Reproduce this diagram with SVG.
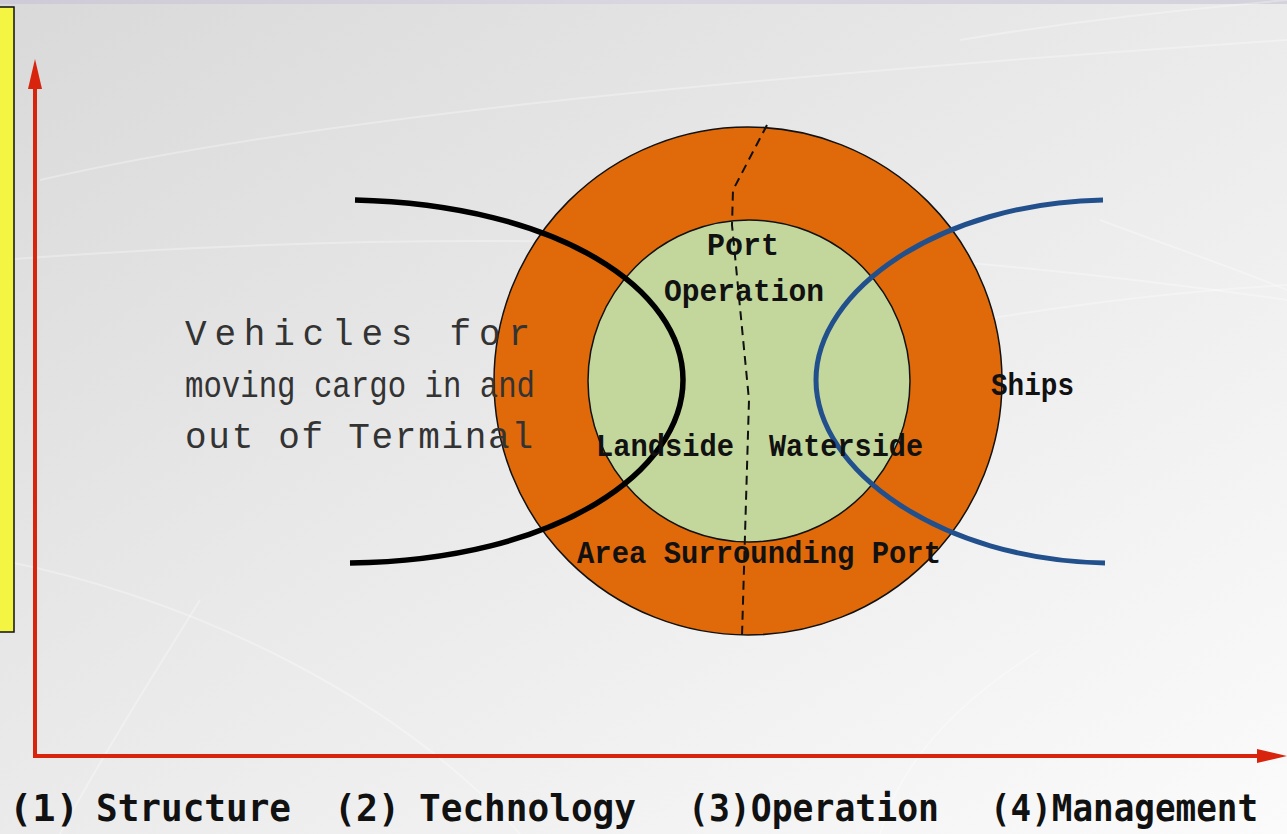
<svg xmlns="http://www.w3.org/2000/svg" width="1287" height="834" viewBox="0 0 1287 834">
  <defs>
    <linearGradient id="bg" x1="0" y1="0" x2="1" y2="1">
      <stop offset="0" stop-color="#d9d9d9"/>
      <stop offset="0.45" stop-color="#e9e9e9"/>
      <stop offset="1" stop-color="#fbfbfb"/>
    </linearGradient>
    <linearGradient id="topband" x1="0" y1="0" x2="1" y2="0">
      <stop offset="0" stop-color="#cfcbd6"/>
      <stop offset="0.5" stop-color="#d9d6df"/>
      <stop offset="1" stop-color="#d4d2da"/>
    </linearGradient>
    <marker id="redHead" markerUnits="userSpaceOnUse" markerWidth="30" markerHeight="14" refX="10" refY="7" orient="auto-start-reverse">
      <path d="M0,0 L30,7 L0,14 Z" fill="#d8240c"/>
    </marker>
    <style>
      .ring { fill: #e06a0a; stroke: #111; stroke-width: 1.5; }
      .core { fill: #c3d79d; stroke: #111; stroke-width: 1.5; }
      .label { font-family: "Liberation Mono", "DejaVu Sans Mono", monospace; font-weight: bold; font-size: 32px; fill: #111; }
      .note { font-family: "Liberation Mono", "DejaVu Sans Mono", monospace; font-size: 36px; fill: #333; }
      .axisLabel { font-family: "DejaVu Sans Mono", "Liberation Mono", monospace; font-weight: bold; font-size: 38px; fill: #111; }
      .sweep { fill: none; stroke: #ffffff; stroke-opacity: 0.3; stroke-width: 2; }
    </style>
  </defs>

  <!-- backdrop -->
  <rect x="0" y="0" width="1287" height="834" fill="url(#bg)"/>
  <rect x="0" y="0" width="1287" height="4" fill="url(#topband)"/>
  <g id="backdrop-sweeps">
    <path class="sweep" d="M40,180 C300,120 700,80 1287,40"/>
    <path class="sweep" d="M0,260 C400,230 800,230 1287,300"/>
    <path class="sweep" d="M960,40 C1080,20 1180,10 1287,0"/>
    <path class="sweep" d="M0,560 C200,600 400,700 520,834"/>
    <path class="sweep" d="M1100,220 C1180,250 1240,270 1287,290"/>
    <path class="sweep" d="M980,320 C1100,300 1200,290 1287,285"/>
    <path class="sweep" d="M200,600 C150,680 100,760 60,834"/>
    <path class="sweep" d="M880,834 C900,760 960,700 1040,650"/>
  </g>

  <!-- side panel -->
  <g id="side-panel">
    <rect x="-2" y="7" width="16" height="625" fill="#f3f542" stroke="#111" stroke-width="1.5"/>
  </g>

  <!-- port rings -->
  <g id="surrounding-area">
    <circle class="ring" cx="748" cy="381" r="254"/>
  </g>
  <g id="port-operation">
    <circle class="core" cx="749" cy="381" r="161"/>
  </g>

  <!-- connectors: axes, boundaries, divider -->
  <g id="connectors" fill="none">
    <path id="axes" d="M35,79 L35,756 L1267,756" stroke="#d8240c" stroke-width="4" stroke-linejoin="miter" marker-start="url(#redHead)" marker-end="url(#redHead)"/>
    <path id="divider" d="M767,125 L733,190 L732,225 L749,400 L742,636" stroke="#111" stroke-width="2" stroke-dasharray="9 6"/>
    <path id="landside-boundary" d="M355,200 C560,205 683,290 683,380 C683,470 560,560 350,563" stroke="#000" stroke-width="5.5"/>
    <path id="waterside-boundary" d="M1103,200 C940,203 816,290 816,380 C816,470 940,560 1105,563" stroke="#22508c" stroke-width="5"/>
  </g>

  <!-- labels -->
  <g id="vehicles">
    <text class="note" x="185" y="345" textLength="345" lengthAdjust="spacing">Vehicles for</text>
    <text class="note" x="185" y="397" textLength="350" lengthAdjust="spacingAndGlyphs">moving cargo in and</text>
    <text class="note" x="185" y="448" textLength="348" lengthAdjust="spacing">out of Terminal</text>
  </g>
  <g id="port-operation-label">
    <text class="label" x="707" y="255" textLength="72" lengthAdjust="spacingAndGlyphs">Port</text>
    <text class="label" x="664" y="301" textLength="160" lengthAdjust="spacingAndGlyphs">Operation</text>
  </g>
  <g id="landside">
    <text class="label" x="596" y="456" textLength="138" lengthAdjust="spacingAndGlyphs">Landside</text>
  </g>
  <g id="waterside">
    <text class="label" x="769" y="456" textLength="154" lengthAdjust="spacingAndGlyphs">Waterside</text>
  </g>
  <g id="ships">
    <text class="label" x="991" y="395" textLength="83" lengthAdjust="spacingAndGlyphs">Ships</text>
  </g>
  <g id="surrounding-label">
    <text class="label" x="577" y="563" textLength="364" lengthAdjust="spacingAndGlyphs">Area Surrounding Port</text>
  </g>

  <!-- axis categories -->
  <g id="categories">
    <text class="axisLabel" x="9" y="821" textLength="70" lengthAdjust="spacingAndGlyphs">(1)</text>
    <text class="axisLabel" x="96" y="821" textLength="195" lengthAdjust="spacingAndGlyphs">Structure</text>
    <text class="axisLabel" x="334" y="821" textLength="66" lengthAdjust="spacingAndGlyphs">(2)</text>
    <text class="axisLabel" x="419" y="821" textLength="217" lengthAdjust="spacingAndGlyphs">Technology</text>
    <text class="axisLabel" x="688" y="821" textLength="251" lengthAdjust="spacingAndGlyphs">(3)Operation</text>
    <text class="axisLabel" x="990" y="821" textLength="268" lengthAdjust="spacingAndGlyphs">(4)Management</text>
  </g>
</svg>
